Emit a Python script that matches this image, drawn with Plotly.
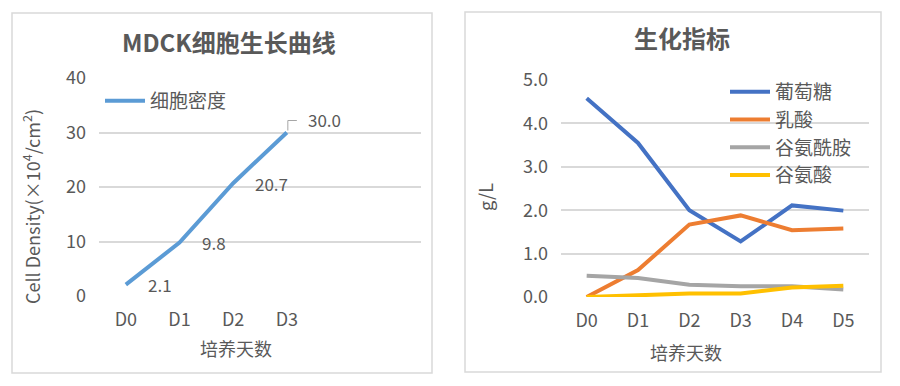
import plotly.graph_objects as go

# ---- data ----
days_left = ["D0", "D1", "D2", "D3", "D4", "D5"]
cell_density = [2.1, 9.8, 20.7, 30.0]
cell_labels = ["2.1", "9.8", "20.7", "30.0"]

days_right = ["D0", "D1", "D2", "D3", "D4", "D5"]
glucose = [4.58, 3.55, 2.00, 1.28, 2.11, 1.99]
lactate = [0.00, 0.62, 1.67, 1.88, 1.54, 1.58]
glutamine = [0.49, 0.44, 0.28, 0.25, 0.25, 0.17]
glutamate = [0.00, 0.03, 0.08, 0.08, 0.22, 0.26]

left_ticks = [0, 10, 20, 30, 40]
right_ticks = [0, 1, 2, 3, 4, 5]

OFF = 8  # default page body margin
W, H = 900 - OFF, 386 - OFF
FONT = "Noto Sans CJK SC, Noto Sans, sans-serif"
TXT = "#595959"
GRID = "#D9D9D9"


def px(x):
    return (x - OFF) / W


def py(y):
    return 1 - (y - OFF) / H


fig = go.Figure()

# left chart
fig.add_trace(go.Scatter(
    x=list(range(len(cell_density))), y=cell_density, mode="lines",
    line=dict(color="#5B9BD5", width=4), name="细胞密度",
    xaxis="x", yaxis="y", legend="legend",
))

# right chart
series = [("葡萄糖", glucose, "#4472C4"), ("乳酸", lactate, "#ED7D31"),
          ("谷氨酰胺", glutamine, "#A5A5A5"), ("谷氨酸", glutamate, "#FFC000")]
for name, vals, col in series:
    fig.add_trace(go.Scatter(
        x=list(range(len(vals))), y=vals, mode="lines",
        line=dict(color=col, width=4), name=name,
        xaxis="x2", yaxis="y2", legend="legend2",
    ))

axis_common = dict(showline=False, zeroline=False, ticks="", automargin=False,
                   tickfont=dict(family=FONT, size=18, color=TXT))

fig.update_layout(
    template="none",
    width=W, height=H, margin=dict(l=0, r=0, t=0, b=0, autoexpand=False),
    paper_bgcolor="white", plot_bgcolor="white",
    font=dict(family=FONT, color=TXT),
    xaxis=dict(domain=[px(99), px(421)], range=[-0.5, 5.5],
               tickmode="array", tickvals=[0, 1, 2, 3],
               ticktext=days_left[:4], showgrid=False,
               ticklabelstandoff=11, anchor="y", **axis_common),
    yaxis=dict(domain=[py(296), py(78)], range=[0, 40],
               tickmode="array", tickvals=left_ticks,
               showgrid=True, gridcolor=GRID, gridwidth=1.5,
               ticklabelstandoff=12, anchor="x", **axis_common),
    xaxis2=dict(domain=[px(561), px(869)], range=[-0.5, 5.5],
                tickmode="array", tickvals=list(range(6)),
                ticktext=days_right, showgrid=False,
                ticklabelstandoff=11, anchor="y2", **axis_common),
    yaxis2=dict(domain=[py(297), py(80)], range=[0, 5],
                tickmode="array", tickvals=right_ticks,
                ticktext=[f"{v:.1f}" for v in right_ticks],
                showgrid=True, gridcolor=GRID, gridwidth=1.5,
                ticklabelstandoff=12, anchor="x2", **axis_common),
    legend=dict(x=px(100), y=py(82), xanchor="left", yanchor="top",
                bgcolor="rgba(0,0,0,0)",
                font=dict(family=FONT, size=19, color=TXT),
                itemwidth=40, tracegroupgap=0),
    legend2=dict(x=px(725), y=py(73), xanchor="left", yanchor="top",
                 bgcolor="rgba(0,0,0,0)",
                 font=dict(family=FONT, size=19, color=TXT),
                 itemwidth=40, tracegroupgap=0),
    showlegend=True,
)

# panel borders
for x0, y0, x1, y1 in [(12, 13, 432, 373), (465, 12, 881, 372)]:
    fig.add_shape(type="rect", xref="paper", yref="paper",
                  x0=px(x0), x1=px(x1), y0=py(y1), y1=py(y0),
                  line=dict(color="#D9D9D9", width=1.5), fillcolor="rgba(0,0,0,0)")

# data labels (left)
shifts = [(20, 0), (20, 0), (20, 0), (19, 13)]
for i, (v, lab) in enumerate(zip(cell_density, cell_labels)):
    dx, dy = shifts[i]
    fig.add_annotation(x=i, y=v, xref="x", yref="y", text=lab, showarrow=False,
                       xanchor="left", yanchor="middle", xshift=dx, yshift=dy,
                       font=dict(family=FONT, size=17, color=TXT))
# leader line for last label
fig.add_shape(type="path", xref="x", yref="y",
              xsizemode="pixel", ysizemode="pixel",
              xanchor=len(cell_density) - 1, yanchor=cell_density[-1],
              path="M1,2 L1,12 L10,12",
              line=dict(color="#A6A6A6", width=1))


def label(x, y, text, size, angle=0):
    fig.add_annotation(x=px(x), y=py(y), xref="paper", yref="paper",
                       text=text, showarrow=False, textangle=angle,
                       xanchor="center", yanchor="middle",
                       font=dict(family=FONT, size=size, color=TXT))


# titles
label(229, 41, "<b>MDCK细胞生长曲线</b>", 24)
label(682, 38, "<b>生化指标</b>", 24)
# axis titles
label(236, 348, "培养天数", 18)
label(686, 352, "培养天数", 18)
label(31, 207, "Cell Density(×10<sup>4</sup>/cm<sup>2</sup>)", 18, -90)
label(485, 197, "g/L", 18, -90)

fig.write_html("out.html")
